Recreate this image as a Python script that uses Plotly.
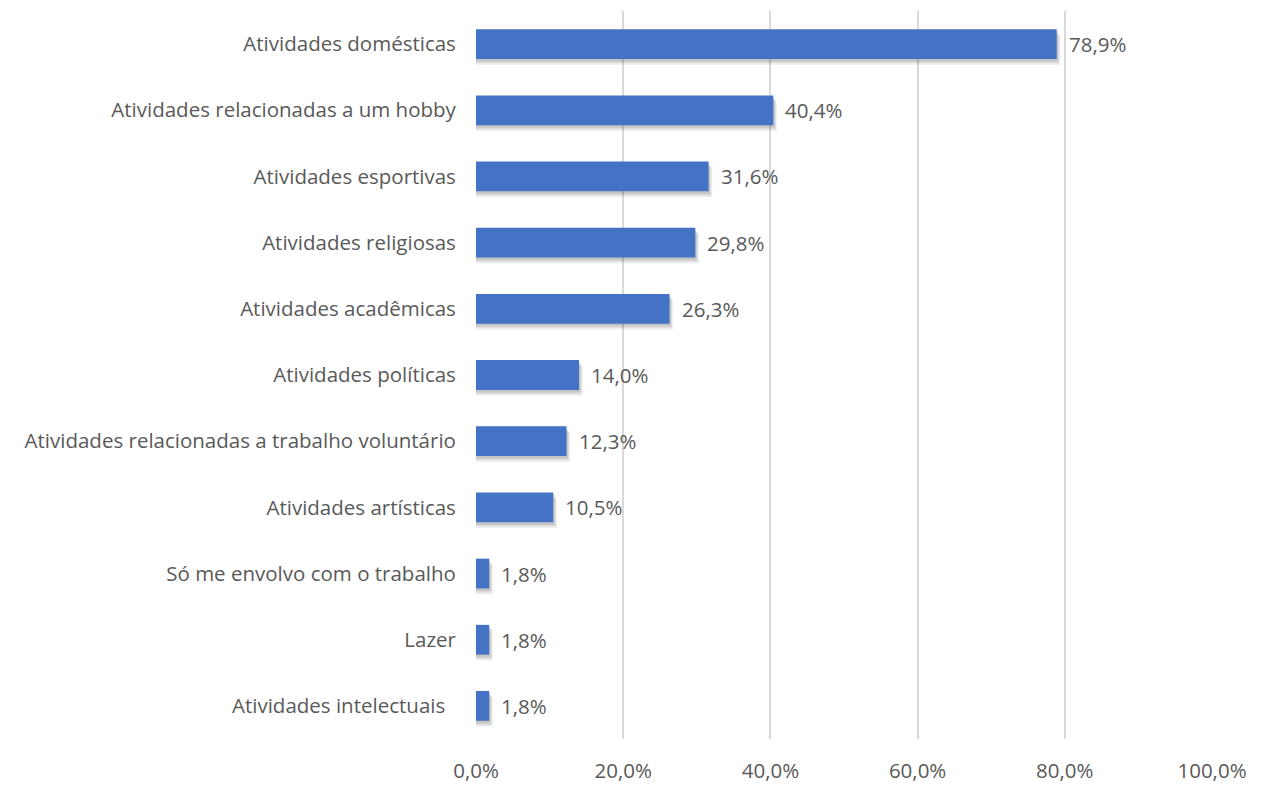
import plotly.graph_objects as go

# Categories listed top to bottom, with the share of respondents (%)
categorias = [
    "Atividades domésticas",
    "Atividades relacionadas a um hobby",
    "Atividades esportivas",
    "Atividades religiosas",
    "Atividades acadêmicas",
    "Atividades políticas",
    "Atividades relacionadas a trabalho voluntário",
    "Atividades artísticas",
    "Só me envolvo com o trabalho",
    "Lazer",
    "Atividades intelectuais\u00a0\u00a0",
]
percentuais = [78.9, 40.4, 31.6, 29.8, 26.3, 14.0, 12.3, 10.5, 1.8, 1.8, 1.8]
ticks_x = [0, 20, 40, 60, 80, 100]
rotulos_x = ["0,0%", "20,0%", "40,0%", "60,0%", "80,0%", "100,0%"]

FONT = "'Open Sans', sans-serif"
FS = 20.5
GREY_TXT = "#595959"
BAR_W = 0.45

fig = go.Figure()

# soft drop shadow behind each bar
for dx, dy, a in [(0.5, 0.09, 0.06), (0.35, 0.065, 0.08), (0.2, 0.04, 0.10)]:
    fig.add_trace(go.Bar(
        y=categorias, x=[v + dx for v in percentuais], orientation="h",
        width=BAR_W, offset=-BAR_W / 2 - dy,
        marker=dict(color=f"rgba(0,0,0,{a})", line=dict(width=0)),
        hoverinfo="skip", showlegend=False,
    ))

fig.add_trace(go.Bar(
    y=categorias, x=percentuais, orientation="h",
    width=BAR_W, offset=-BAR_W / 2,
    marker=dict(color="#4472C4", line=dict(width=0)),
    showlegend=False,
))

# value labels to the right of each bar
for cat, v in zip(categorias, percentuais):
    fig.add_annotation(
        x=v, y=cat, xref="x", yref="y",
        text=f"{v:.1f}%".replace(".", ","),
        showarrow=False, xanchor="left", xshift=10,
        font=dict(family=FONT, size=FS, color=GREY_TXT),
    )

fig.update_layout(
    width=1267, height=785,
    margin=dict(l=476, r=55, t=11, b=46),
    paper_bgcolor="white", plot_bgcolor="white",
    barmode="overlay",
    font=dict(family=FONT, size=FS, color=GREY_TXT),
    xaxis=dict(
        range=[0, 100], tickvals=ticks_x, ticktext=rotulos_x,
        showgrid=True, gridcolor="#d9d9d9", gridwidth=1.5,
        zeroline=False, showline=False, ticks="outside", ticklen=13,
        tickcolor="rgba(0,0,0,0)", automargin=False,
        tickfont=dict(family=FONT, size=FS, color=GREY_TXT),
    ),
    yaxis=dict(
        categoryorder="array", categoryarray=categorias[::-1],
        showgrid=False, zeroline=False, showline=False,
        ticks="outside", ticklen=15, tickcolor="rgba(0,0,0,0)",
        automargin=False,
        tickfont=dict(family=FONT, size=FS, color=GREY_TXT),
    ),
)

fig.write_html("out.html")
